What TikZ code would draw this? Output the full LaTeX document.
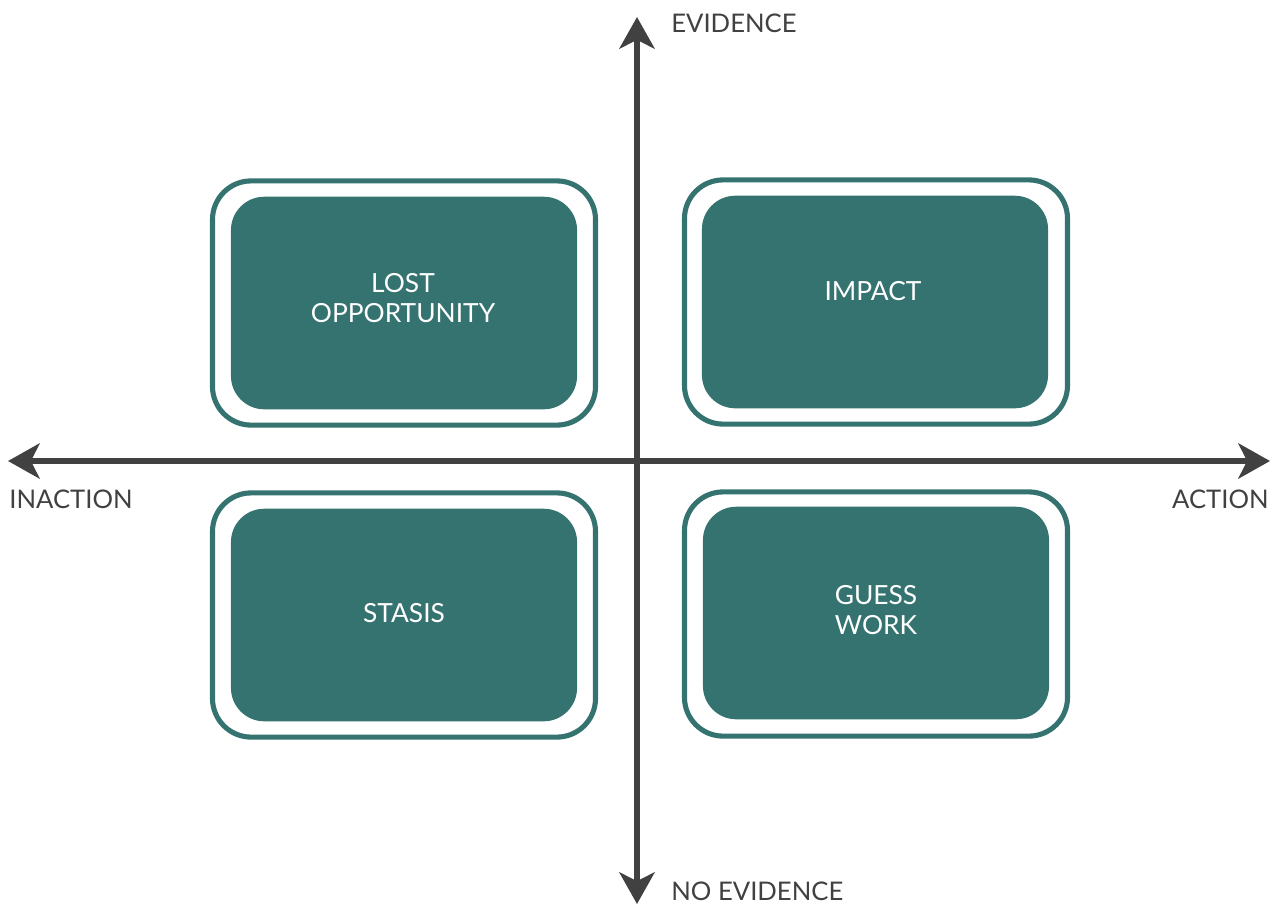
\documentclass[tikz,border=0pt]{standalone}
\usepackage{fontspec}
\setmainfont{Lato}
\usetikzlibrary{arrows.meta}
\usetikzlibrary{positioning}

\definecolor{quadteal}{HTML}{357371}
\definecolor{axisgray}{HTML}{414141}

\tikzset{
  axisline/.style={axisgray,line width=3.4pt,-{Stealth[length=18pt,width=20pt,inset=5pt]}},
  axislabel/.style={font=\fontsize{14.6}{17}\selectfont,text=axisgray,inner sep=0pt},
  outerbox/.style={draw=quadteal,line width=2.9pt,fill=white,rounded corners=22pt,minimum width=218pt,minimum height=139pt},
  innerbox/.style={fill=quadteal,rounded corners=19pt,minimum width=197pt,minimum height=121pt},
  boxtext/.style={text=white,align=center,inner sep=0pt,font=\fontsize{15}{17}\selectfont},
}

\begin{document}
\begin{tikzpicture}[x=0.02cm,y=-0.02cm]
\useasboundingbox (0,0) rectangle (1275,904);

% axes
\coordinate (O) at (637,461);
\coordinate (top) at (637,17);
\coordinate (bot) at (637,904);
\coordinate (left) at (8,461);
\coordinate (right) at (1270,461);
\draw[axisline] (O) -- (top);
\draw[axisline] (O) -- (bot);
\draw[axisline] (O) -- (left);
\draw[axisline] (O) -- (right);

\node[axislabel,anchor=base west] (evid) at (671,32) {EVIDENCE};
\node[axislabel,anchor=base west] (noevid) at (671,900) {NO EVIDENCE};
\node[axislabel,anchor=base west] (inact) at (9,508) {INACTION};
\node[axislabel,anchor=base east] (act) at (1269,508) {ACTION};

% quadrants
\node[outerbox] (lostbox) at (404,303) {};
\node[innerbox] (lostopp) at (404,303) {};
\node[boxtext] (losttxt) at (403,298) {LOST\\OPPORTUNITY};
\node[outerbox] (impbox) at (876,302) {};
\node[innerbox] (impact) at (875,302) {};
\node[boxtext] (imptxt) at (873,291) {IMPACT};
\node[outerbox] (stabox) at (404,615) {};
\node[innerbox] (stasis) at (404,615) {};
\node[boxtext] (statxt) at (404,613) {STASIS};
\node[outerbox] (gwbox) at (876,614) {};
\node[innerbox] (guess) at (876,613) {};
\node[boxtext] (gwtxt) at (876,610) {GUESS\\WORK};

\end{tikzpicture}
\end{document}
